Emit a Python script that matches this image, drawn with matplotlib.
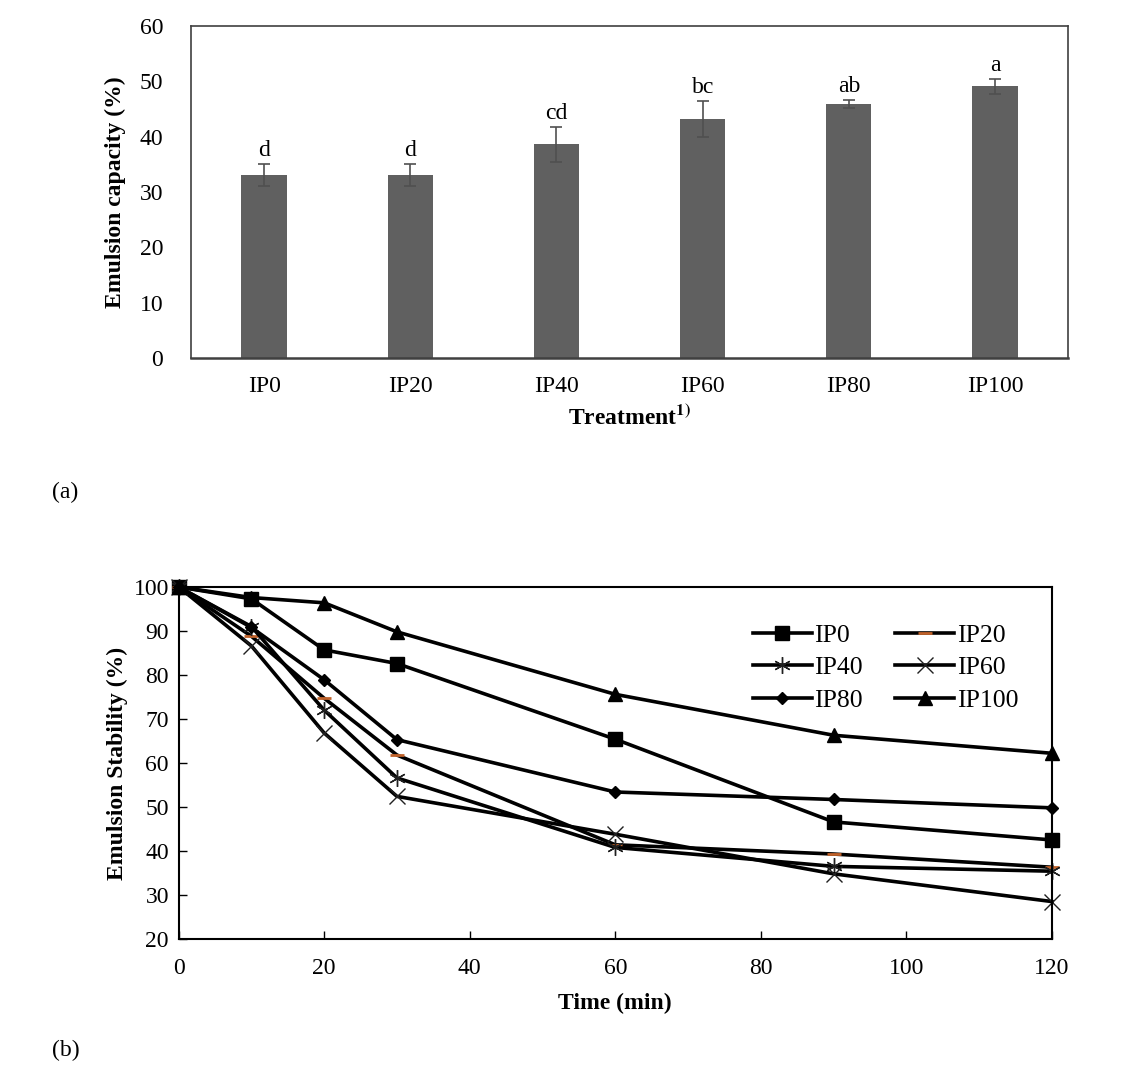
import matplotlib
matplotlib.use('Agg')
import matplotlib.pyplot as plt

plt.rcParams['font.family'] = ['Liberation Serif', 'DejaVu Serif']
plt.rcParams['mathtext.fontset'] = 'stix'

# (a) emulsion capacity
treatments = ['IP0', 'IP20', 'IP40', 'IP60', 'IP80', 'IP100']
capacity = [33.1, 33.1, 38.6, 43.2, 45.9, 49.1]
capacity_err = [2.0, 2.0, 3.2, 3.3, 0.7, 1.3]
letters = ['d', 'd', 'cd', 'bc', 'ab', 'a']

# (b) emulsion stability over time
time_min = [0, 10, 20, 30, 60, 90, 120]
stability = {
    'IP0': [100, 97.3, 85.7, 82.6, 65.4, 46.6, 42.5],
    'IP20': [100, 88.8, 74.7, 61.8, 41.4, 39.3, 36.3],
    'IP40': [100, 91.0, 72.0, 56.6, 40.8, 36.5, 35.4],
    'IP60': [100, 86.6, 66.8, 52.4, 43.8, 34.8, 28.5],
    'IP80': [100, 90.8, 78.9, 65.3, 53.4, 51.7, 49.8],
    'IP100': [100, 97.6, 96.4, 89.8, 75.6, 66.3, 62.2],
}

fs = 17

fig = plt.figure(figsize=(11.46, 10.8), dpi=100)

# top panel
ax1 = fig.add_axes([0.1667, 0.6685, 0.7653, 0.3074])
xpos = range(len(treatments))
ax1.bar(xpos, capacity, width=0.31, color='#606060',
        yerr=capacity_err, error_kw=dict(ecolor='#505050', elinewidth=1.2, capsize=4, capthick=1.2))
for i in xpos:
    ax1.text(i, capacity[i] + capacity_err[i] + 0.5, letters[i], ha='center', va='bottom', fontsize=fs)
ax1.set_xlim(-0.5, len(treatments) - 0.5)
ax1.set_ylim(0, 60)
ax1.set_yticks(range(0, 61, 10))
ax1.set_xticks(list(xpos))
ax1.set_xticklabels(treatments)
ax1.tick_params(length=0, labelsize=fs)
ax1.tick_params(axis='x', pad=13)
ax1.tick_params(axis='y', pad=20)
for s in ax1.spines.values():
    s.set_color('#404040')
    s.set_linewidth(1.2)
ax1.spines['bottom'].set_linewidth(1.8)
ax1.set_ylabel('Emulsion capacity (%)', fontsize=fs, fontweight='bold', labelpad=10)
ax1.set_xlabel(r'Treatment$^{\mathbf{1)}}$', fontsize=fs, fontweight='bold', labelpad=6)

fig.text(0.045, 1 - 492 / 1080, '(a)', fontsize=fs, va='center')

# bottom panel
ax2 = fig.add_axes([0.1559, 0.1306, 0.7620, 0.3259])
styles = {
    'IP0': dict(marker='s', markersize=10, color='black'),
    'IP20': dict(marker='_', markersize=10, markeredgecolor='#c0622a', markeredgewidth=2, color='black'),
    'IP40': dict(marker=(6, 2, 0), markersize=12, markeredgewidth=1.0, markeredgecolor='#202020', color='black'),
    'IP60': dict(marker='x', markersize=11, markeredgewidth=1.0, markeredgecolor='#202020', color='black'),
    'IP80': dict(marker='D', markersize=6.5, color='black'),
    'IP100': dict(marker='^', markersize=10, color='black'),
}
lines = {}
for name, vals in stability.items():
    ln, = ax2.plot(time_min, vals, linewidth=2.6, label=name, clip_on=False, **styles[name])
    lines[name] = ln
ax2.set_xlim(0, 120)
ax2.set_ylim(20, 100)
ax2.set_xticks(range(0, 121, 20))
ax2.set_yticks(range(20, 101, 10))
ax2.tick_params(direction='in', length=6, width=1.0, labelsize=fs)
ax2.tick_params(axis='x', pad=14)
ax2.tick_params(axis='y', pad=7)
for s in ax2.spines.values():
    s.set_linewidth(1.5)
ax2.set_xlabel('Time (min)', fontsize=fs, fontweight='bold', labelpad=10)
ax2.set_ylabel('Emulsion Stability (%)', fontsize=fs, fontweight='bold', labelpad=4)

order = ['IP0', 'IP40', 'IP80', 'IP20', 'IP60', 'IP100']
ax2.legend([lines[n] for n in order], order, ncol=2, frameon=False, fontsize=18.5,
           loc='upper left', bbox_to_anchor=(0.631, 0.96), handlelength=2.3,
           handletextpad=0.1, columnspacing=1.25, labelspacing=0.36)

fig.text(0.045, 1 - 1050 / 1080, '(b)', fontsize=fs, va='center')

fig.savefig('out.png', dpi=100)
